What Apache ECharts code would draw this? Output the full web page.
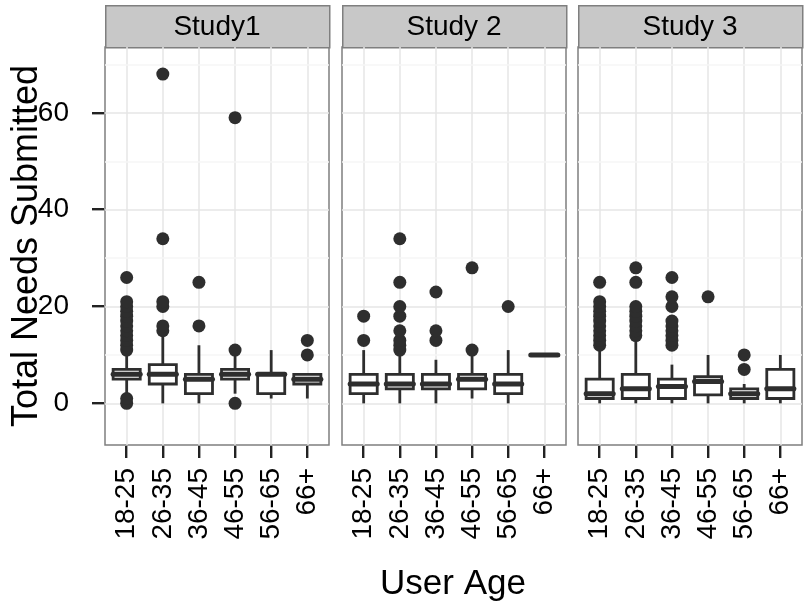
<!DOCTYPE html>
<html>
<head>
<meta charset="utf-8">
<title>Total Needs Submitted by User Age</title>
<script src="https://cdn.jsdelivr.net/npm/echarts@6.0.0/dist/echarts.min.js"></script>
<style>
  html, body { margin: 0; padding: 0; background: #fff; }
  #main { width: 804px; height: 611px; }
</style>
</head>
<body>
<div id="main"></div>
<script>
// categories / facets
var ageGroups = ['18-25', '26-35', '36-45', '46-55', '56-65', '66+'];
var studyNames = ['Study1', 'Study 2', 'Study 3'];
var xTicks = [1, 2, 3, 4, 5, 6];
var yTicks = [0, 20, 40, 60];
var yMinorTicks = [10, 30, 50, 70];

// box stats per age group: [lower whisker, Q1, median, Q3, upper whisker]
var study1Box = [[2, 5, 6, 7, 10], [0, 4, 6, 8, 14], [0, 2, 5, 6, 12], [2, 5, 6, 7, 10], [1, 2, 6, 6, 11], [1, 4, 5, 6, 6]];
var study2Box = [[0, 2, 4, 6, 11], [0, 3, 4, 6, 10], [0, 3, 4, 6, 9], [1, 3, 5, 6, 10], [0, 2, 4, 6, 11], [10, 10, 10, 10, 10]];
var study3Box = [[0, 1, 2, 5, 11], [0, 1, 3, 6, 13], [0, 1, 3.5, 5, 8], [0, 1.75, 4.5, 5.5, 10], [0, 1, 2, 3, 4], [0, 1, 3, 7, 10]];

// outliers per age group
var study1Out = [[0, 1, 11, 12, 13, 14, 15, 16, 17, 18, 19, 20, 21, 26], [15, 16, 20, 21, 34, 68], [16, 25], [0, 11, 59], [], [10, 13]];
var study2Out = [[13, 18], [11, 12, 13, 15, 18, 20, 25, 34], [13, 15, 23], [11, 28], [20], []];
var study3Out = [[12, 13, 14, 15, 16, 17, 18, 19, 20, 21, 25], [14, 15, 16, 17, 18, 19, 20, 25, 28], [12, 13, 14, 15, 16, 17, 20, 22, 26], [22], [7, 10], []];

var boxes = [study1Box, study2Box, study3Box];
var outliers = [study1Out, study2Out, study3Out];

var font = '"Liberation Sans", Arial, Helvetica, sans-serif';
var dark = '#2e2e2e';
var panelLeft = [105, 342, 578];
var panelWidth = 224;
var panelTop = 47;
var panelHeight = 398;
var yMin = -8.6, yMax = 73.6;
var xMin = 0.4, xMax = 6.6;
var tickLen = 12;

var myChart = echarts.init(document.getElementById('main'));

// draw one box + whiskers + thick median
function renderBox(params, api) {
    var x = api.value(0);
    var low = api.coord([x, api.value(1)]);
    var q1 = api.coord([x, api.value(2)]);
    var med = api.coord([x, api.value(3)]);
    var q3 = api.coord([x, api.value(4)]);
    var high = api.coord([x, api.value(5)]);
    var half = api.size([0.75, 0])[0] / 2;
    var cx = q1[0];
    var ls = { stroke: dark, lineWidth: 2.8 };
    return {
        type: 'group',
        children: [
            { type: 'line', shape: { x1: cx, y1: low[1], x2: cx, y2: q1[1] }, style: ls },
            { type: 'line', shape: { x1: cx, y1: q3[1], x2: cx, y2: high[1] }, style: ls },
            { type: 'rect', shape: { x: cx - half, y: q3[1], width: half * 2, height: q1[1] - q3[1] },
              style: { fill: '#fff', stroke: dark, lineWidth: 2.8 } },
            { type: 'line', shape: { x1: cx - half, y1: med[1], x2: cx + half, y2: med[1] },
              style: { stroke: dark, lineWidth: 5, lineCap: 'round' } }
        ]
    };
}

// same linear mapping the value axes use (for the outward tick marks)
function xPx(panel, v) { return panelLeft[panel] + (v - xMin) / (xMax - xMin) * panelWidth; }
function yPx(v) { return panelTop + (yMax - v) / (yMax - yMin) * panelHeight; }

var grids = [], xAxes = [], yAxes = [], series = [], graphics = [];
var bottomEdge = panelTop + panelHeight;

for (var i = 0; i < 3; i++) {
    grids.push({
        left: panelLeft[i], top: panelTop, width: panelWidth, height: panelHeight,
        show: true, borderColor: '#7f7f7f', borderWidth: 1.5
    });
    xAxes.push({
        type: 'value', gridIndex: i, min: xMin, max: xMax, position: 'bottom',
        axisLine: { show: false, onZero: false },
        axisTick: { show: false, customValues: xTicks },
        axisLabel: {
            customValues: xTicks, rotate: 90, margin: 23,
            fontSize: 28, fontFamily: font, color: '#000',
            formatter: function (v) { return ageGroups[Math.round(v) - 1]; }
        },
        splitLine: { show: true, lineStyle: { color: '#e6e6e6', width: 1.5 } }
    });
    yAxes.push({
        type: 'value', gridIndex: i, min: yMin, max: yMax, position: 'left',
        axisLine: { show: false, onZero: false },
        axisTick: { show: false, customValues: yTicks },
        axisLabel: { show: i === 0, customValues: yTicks, margin: 36,
                     fontSize: 28, fontFamily: font, color: '#000' },
        splitLine: { show: true, lineStyle: { color: '#e6e6e6', width: 1.5 } }
    });

    // faint minor grid lines
    series.push({
        type: 'line', xAxisIndex: i, yAxisIndex: i, data: [], z: 1, silent: true,
        markLine: {
            z: 1, silent: true, symbol: 'none', label: { show: false },
            lineStyle: { color: '#f6f6f6', width: 1.5, type: 'solid' },
            data: yMinorTicks.map(function (v) { return { yAxis: v }; })
        }
    });

    series.push({
        type: 'custom', xAxisIndex: i, yAxisIndex: i, z: 3,
        renderItem: renderBox,
        encode: { x: 0, y: [1, 2, 3, 4, 5] },
        data: boxes[i].map(function (b, k) { return [k + 1].concat(b); })
    });

    var pts = [];
    outliers[i].forEach(function (list, k) {
        list.forEach(function (v) { pts.push([k + 1, v]); });
    });
    series.push({
        type: 'scatter', xAxisIndex: i, yAxisIndex: i, z: 4,
        symbolSize: 13, itemStyle: { color: dark, opacity: 1 },
        data: pts
    });

    // facet strip
    graphics.push({
        type: 'rect', left: panelLeft[i], top: 5,
        shape: { x: 0, y: 0, width: panelWidth, height: 42 },
        style: { fill: '#c8c8c8', stroke: '#7f7f7f', lineWidth: 1.5 }
    });
    graphics.push({
        type: 'text', x: panelLeft[i] + panelWidth / 2, y: 27,
        style: { text: studyNames[i], fontSize: 28, fontFamily: font, fill: '#000',
                 align: 'center', verticalAlign: 'middle' }
    });

    // x tick marks below the panel
    for (var t = 0; t < xTicks.length; t++) {
        graphics.push({
            type: 'rect', left: Math.round(xPx(i, xTicks[t]) - 1.2), top: bottomEdge + 1,
            shape: { x: 0, y: 0, width: 2.4, height: tickLen },
            style: { fill: '#222' }
        });
    }
}

// y tick marks left of the first panel
for (var s = 0; s < yTicks.length; s++) {
    graphics.push({
        type: 'rect', left: panelLeft[0] - tickLen - 1, top: Math.round(yPx(yTicks[s]) - 1.2),
        shape: { x: 0, y: 0, width: tickLen, height: 2.4 },
        style: { fill: '#222' }
    });
}

// axis titles
graphics.push({
    type: 'text', x: 27, y: 246, rotation: Math.PI / 2,
    style: { text: 'Total Needs Submitted', fontSize: 36, fontFamily: font, fill: '#000',
             align: 'center', verticalAlign: 'middle' }
});
graphics.push({
    type: 'text', x: 453, y: 584,
    style: { text: 'User Age', fontSize: 35, fontFamily: font, fill: '#000',
             align: 'center', verticalAlign: 'middle' }
});

var option = {
    animation: false,
    backgroundColor: '#fff',
    grid: grids,
    xAxis: xAxes,
    yAxis: yAxes,
    series: series,
    graphic: graphics
};
myChart.setOption(option);
</script>
</body>
</html>
